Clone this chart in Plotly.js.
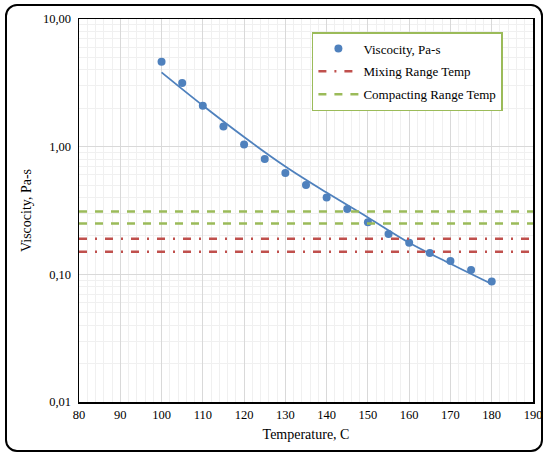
<!DOCTYPE html>
<html>
<head>
<meta charset="utf-8">
<script src="https://cdn.plot.ly/plotly-3.0.1.min.js"></script>
<style>
html,body{margin:0;padding:0;background:#fff;}
#wrap{position:relative;width:549px;height:456px;}
#chart{position:absolute;left:0;top:0;width:549px;height:456px;}
#frame{position:absolute;left:5px;top:4px;width:534px;height:444px;border:2.5px solid #000;border-radius:12px;pointer-events:none;}
</style>
</head>
<body>
<div id="wrap"><div id="chart"></div><div id="frame"></div></div>
<script>
// Measured data
var temperature = [100,105,110,115,120,125,130,135,140,145,150,155,160,165,170,175,180];
var viscosity = [4.62,3.15,2.09,1.44,1.04,0.80,0.623,0.501,0.40,0.325,0.256,0.207,0.177,0.147,0.127,0.108,0.088];
// Trend line
var trendTemp = [100,110,120,130,140,150,160,170,180];
var trendVisc = [3.82,2.10,1.19,0.70,0.437,0.279,0.177,0.121,0.084];
// Reference ranges
var rangeTemp = [80,190];
var mixingLevels = [0.19,0.15];
var compactingLevels = [0.31,0.25];

var blue = '#4f81bd', red = '#c0504d', green = '#9bbb59';
var serif = 'Liberation Serif, Times New Roman, serif';

var traces = [
  {x: temperature, y: viscosity, mode: 'markers', type: 'scatter', name: 'Viscocity, Pa-s',
   marker: {color: blue, size: 8}, legendgroup: 'a'},
  {x: trendTemp, y: trendVisc, mode: 'lines', type: 'scatter', showlegend: false,
   line: {color: blue, width: 1.8, shape: 'spline'}, hoverinfo: 'skip'},
  {x: rangeTemp, y: [mixingLevels[0], mixingLevels[0]], mode: 'lines', type: 'scatter',
   name: 'Mixing Range Temp', legendgroup: 'b',
   line: {color: red, width: 2.5, dash: '8px,8px,2px,8px'}},
  {x: rangeTemp, y: [mixingLevels[1], mixingLevels[1]], mode: 'lines', type: 'scatter',
   showlegend: false, legendgroup: 'b',
   line: {color: red, width: 2.5, dash: '8px,8px,2px,8px'}},
  {x: rangeTemp, y: [compactingLevels[0], compactingLevels[0]], mode: 'lines', type: 'scatter',
   name: 'Compacting Range Temp', legendgroup: 'c',
   line: {color: green, width: 2.5, dash: '8px,8px'}},
  {x: rangeTemp, y: [compactingLevels[1], compactingLevels[1]], mode: 'lines', type: 'scatter',
   showlegend: false, legendgroup: 'c',
   line: {color: green, width: 2.5, dash: '8px,8px'}}
];

var layout = {
  width: 549, height: 456,
  margin: {l: 79, r: 16, t: 19, b: 54},
  paper_bgcolor: '#fff', plot_bgcolor: '#fff',
  separators: ', ',
  font: {family: serif, size: 12.5, color: '#000'},
  showlegend: true,
  legend: {x: 0.513, y: 0.966, xanchor: 'left', yanchor: 'top',
    bgcolor: '#fff', bordercolor: green, borderwidth: 1.5,
    font: {family: serif, size: 13, color: '#000'},
    itemwidth: 40,
    traceorder: 'grouped', tracegroupgap: 3},
  xaxis: {range: [80, 190], dtick: 10, tick0: 80,
    showline: true, linecolor: '#000', linewidth: 1.5, mirror: true,
    showgrid: true, gridcolor: '#d9d9d9', gridwidth: 1,
    minor: {dtick: 2, showgrid: true, gridcolor: '#f0f0f0', gridwidth: 1},
    zeroline: false, ticks: '',
    tickfont: {family: serif, size: 12.5, color: '#000'},
    title: {text: 'Temperature, C', font: {family: serif, size: 14, color: '#000'}, standoff: 8}},
  yaxis: {type: 'log', range: [-2, 1], dtick: 1, tickformat: '.2f',
    showline: true, linecolor: '#000', linewidth: 1.5, mirror: true,
    showgrid: true, gridcolor: '#d9d9d9', gridwidth: 1,
    minor: {showgrid: true, gridcolor: '#f0f0f0', gridwidth: 1},
    zeroline: false, ticks: '', ticklabelstandoff: 4,
    tickfont: {family: serif, size: 12.5, color: '#000'},
    title: {text: 'Viscocity, Pa-s', font: {family: serif, size: 14, color: '#000'}, standoff: 8}}
};

Plotly.newPlot('chart', traces, layout, {displayModeBar: false, staticPlot: true});
</script>
</body>
</html>
